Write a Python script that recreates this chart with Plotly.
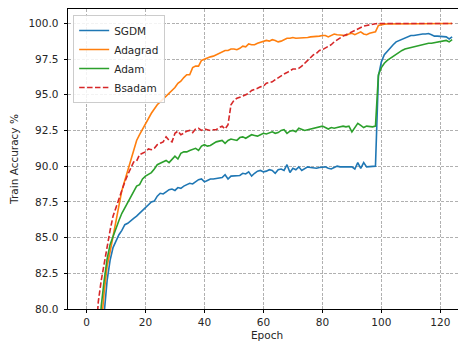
import plotly.graph_objects as go

epochs = list(range(125))

sgdm = [
    35, 55, 64, 70, 74, 77, 79.7, 82.0, 83.4, 84.3,
    84.8, 85.2, 85.5, 85.9, 86.0, 86.2, 86.35, 86.5, 86.7, 86.9,
    87.1, 87.35, 87.5, 87.55, 87.9, 88.1, 88.05, 88.2, 88.35, 88.4,
    88.3, 88.5, 88.45, 88.6, 88.7, 88.8, 88.75, 88.9, 89.05, 89.1,
    88.9, 89.0, 89.1, 89.1, 89.15, 89.2, 89.2, 89.4, 89.1, 89.3,
    89.3, 89.35, 89.35, 89.5, 89.45, 89.6, 89.3, 89.5, 89.65, 89.7,
    89.6, 89.65, 89.75, 89.7, 89.5, 89.75, 89.8, 89.7, 90.1, 89.55,
    89.85, 89.75, 89.95, 89.7, 89.85, 89.95, 89.9, 89.85, 89.85, 89.9,
    89.95, 89.95, 89.85, 89.8, 89.9, 90.0, 89.95, 89.95, 89.95, 89.95,
    89.95, 89.8, 90.25, 89.85, 90.25, 89.95, 89.95, 89.95, 90.0, 96.3,
    97.3, 97.8, 98.05, 98.3, 98.5, 98.7, 98.8, 98.9, 99.0, 99.1,
    99.15, 99.15, 99.2, 99.2, 99.25, 99.25, 99.28, 99.2, 99.1, 99.1,
    99.1, 99.05, 99.05, 98.9, 99.05,
]

adagrad = [
    30, 50, 62, 70, 75, 78.8, 81.2, 83.0, 84.0, 85.1,
    86.1, 87.2, 88.3, 89.0, 89.7, 90.5, 91.2, 91.8, 92.2, 92.6,
    93.0, 93.4, 93.7, 94.0, 94.3, 94.5, 94.7, 94.85, 95.1, 95.3,
    95.5, 95.8, 95.95, 96.2, 96.4, 96.4, 96.9, 97.0, 97.0, 97.4,
    97.5, 97.55, 97.65, 97.7, 97.8, 97.9, 98.0, 98.1, 98.1, 98.2,
    98.2, 98.15, 98.25, 98.4, 98.35, 98.55, 98.5, 98.5, 98.6, 98.65,
    98.7, 98.8, 98.75, 98.85, 98.8, 98.7, 98.75, 98.85, 98.95, 98.95,
    99.0, 98.95, 98.95, 99.0, 99.0, 99.0, 99.05, 99.05, 99.05, 99.1,
    99.15, 99.15, 99.05, 99.15, 99.25, 99.2, 99.2, 99.15, 99.15, 99.25,
    99.3, 99.2, 99.3, 99.4, 99.25, 99.2, 99.3, 99.35, 99.4, 99.85,
    99.92, 99.94, 99.95, 99.95, 99.96, 99.96, 99.96, 99.97, 99.97, 99.97,
    99.97, 99.97, 99.97, 99.98, 99.98, 99.98, 99.98, 99.98, 99.98, 99.98,
    99.98, 99.98, 99.98, 99.98, 99.98,
]

adam = [
    40, 58, 67, 73, 77, 80.2, 82.0, 83.5, 84.5, 85.1,
    85.6, 86.2, 86.7, 87.1, 87.5, 87.8, 88.3, 88.6, 88.7, 89.1,
    89.3, 89.4, 89.55, 89.8, 90.1, 90.2, 90.3, 90.4, 90.25, 90.5,
    90.7, 90.5, 90.9, 91.0, 91.0, 91.1, 91.15, 91.25, 91.1, 91.4,
    91.5, 91.4, 91.45, 91.6, 91.7, 91.75, 91.8, 91.6, 91.8, 91.9,
    91.85, 91.8, 92.0, 92.05, 91.95, 92.1, 92.2, 92.15, 92.1, 92.2,
    92.3, 92.25, 92.35, 92.4, 92.3, 92.35, 92.5, 92.55, 92.3, 92.45,
    92.5, 92.4, 92.65, 92.55, 92.5, 92.55, 92.6, 92.6, 92.65, 92.7,
    92.8, 92.7, 92.6, 92.7, 92.65, 92.7, 92.75, 92.8, 92.75, 92.8,
    92.4, 92.7, 93.0, 92.85, 92.7, 92.8, 92.75, 92.75, 92.8, 96.4,
    96.9, 97.2, 97.4, 97.55, 97.7, 97.8, 97.95, 98.1, 98.2, 98.25,
    98.35, 98.4, 98.45, 98.45, 98.5, 98.55, 98.6, 98.6, 98.65, 98.7,
    98.7, 98.75, 98.8, 98.7, 98.85,
]

bsadam = [
    45, 62, 71, 77.5, 80.5, 82.0, 83.2, 84.5, 85.5, 86.5,
    87.1, 87.8, 88.4, 88.9, 89.4, 89.9, 90.3, 90.35, 90.8, 90.9,
    91.0, 91.2, 91.15, 91.25, 91.5, 91.6, 91.7, 92.05, 91.8, 91.7,
    92.3, 92.45, 92.2, 92.3, 92.45, 92.5, 92.35, 92.6, 92.65, 92.5,
    92.6, 92.55, 92.5, 92.55, 92.55, 92.7, 92.8, 92.6, 92.9, 94.3,
    94.6, 94.75, 94.8, 94.9, 95.0, 95.1, 95.3, 95.35, 95.45, 95.55,
    95.6, 95.8, 95.85, 95.9, 96.05, 96.2, 96.3, 96.45, 96.55, 96.7,
    96.8, 96.8, 96.85, 97.0, 97.2, 97.4, 97.6, 97.8, 97.9, 98.1,
    98.15, 98.25, 98.4, 98.5, 98.7, 98.85, 98.95, 99.1, 99.2, 99.3,
    99.4, 99.5, 99.65, 99.75, 99.8, 99.85, 99.9, 99.95, 99.97, 99.98,
    99.98, 99.98, 99.98, 99.98, 99.98, 99.98, 99.98, 99.98, 99.98, 99.98,
    99.99, 99.99, 99.99, 99.99, 99.99, 99.99, 99.99, 99.99, 99.99, 99.99,
    99.99, 99.99, 99.99, 99.99, 99.99,
]

series_names = ["SGDM", "Adagrad", "Adam", "Bsadam"]
series_colors = ["#1f77b4", "#ff7f0e", "#2ca02c", "#d62728"]
x_ticks = [0, 20, 40, 60, 80, 100, 120]
y_ticks = [80.0, 82.5, 85.0, 87.5, 90.0, 92.5, 95.0, 97.5, 100.0]

for s in (sgdm, adagrad, adam, bsadam):
    assert len(s) == len(epochs), len(s)

FONT = "DejaVu Sans"
TXT = "#262626"

fig = go.Figure()
for name, vals, col in zip(series_names, [sgdm, adagrad, adam, bsadam], series_colors):
    fig.add_trace(go.Scatter(
        x=epochs, y=vals, mode="lines", name=name,
        line=dict(color=col, width=1.6,
                  dash="5.5px,2.4px" if name == "Bsadam" else "solid"),
    ))

axis_common = dict(
    showgrid=True, gridcolor="#b0b0b0", gridwidth=0.8, griddash="3px,1.5px",
    showline=True, linecolor="black", linewidth=0.9,
    ticks="outside", ticklen=3.5, tickwidth=0.8, tickcolor="black",
    tickfont=dict(family=FONT, size=10.5, color=TXT),
    zeroline=False, automargin=False,
)

# the page body has an 8px default margin, so the figure is sized to fit inside it
fig.update_layout(
    width=458, height=336,
    margin=dict(l=59.5, r=0, t=1, b=35),
    paper_bgcolor="white", plot_bgcolor="white",
    font=dict(family=FONT, size=10.5, color=TXT),
    xaxis=dict(range=[-6.27, 128.7], tickvals=x_ticks, mirror=True,
               title=dict(text="Epoch", font=dict(family=FONT, size=10.5, color=TXT), standoff=4),
               **axis_common),
    yaxis=dict(range=[80, 101.0], tickvals=y_ticks, tickformat=".1f", mirror=False,
               ticklabelstandoff=3,
               title=dict(text="Train Accuracy %", font=dict(family=FONT, size=10.5, color=TXT), standoff=8),
               **axis_common),
    legend=dict(x=0.013, y=0.98, xanchor="left", yanchor="top",
                bgcolor="rgba(255,255,255,0.85)", bordercolor="#cccccc", borderwidth=1,
                font=dict(family=FONT, size=10.5, color=TXT),
                tracegroupgap=0, itemwidth=30),
    showlegend=True,
)

fig.write_html("out.html")
